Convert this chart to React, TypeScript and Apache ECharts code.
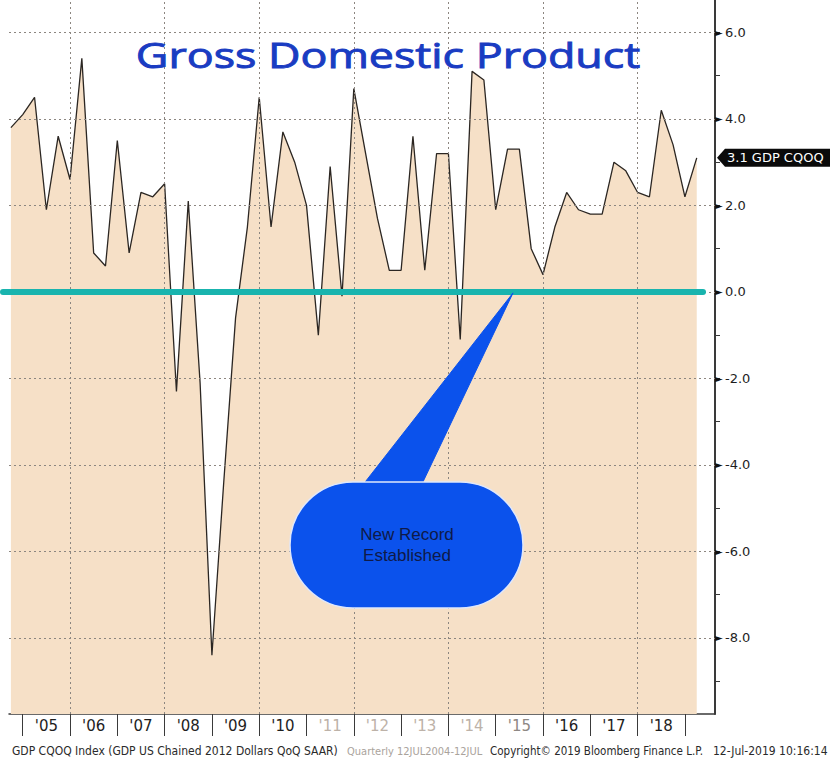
import React, { useEffect, useRef } from "react";
import * as echarts from "echarts";

// Quarterly GDP (QoQ SAAR), quarter-end positions
const quarters: string[] = [
  "2004Q3", "2004Q4",
  "2005Q1", "2005Q2", "2005Q3", "2005Q4",
  "2006Q1", "2006Q2", "2006Q3", "2006Q4",
  "2007Q1", "2007Q2", "2007Q3", "2007Q4",
  "2008Q1", "2008Q2", "2008Q3", "2008Q4",
  "2009Q1", "2009Q2", "2009Q3", "2009Q4",
  "2010Q1", "2010Q2", "2010Q3", "2010Q4",
  "2011Q1", "2011Q2", "2011Q3", "2011Q4",
  "2012Q1", "2012Q2", "2012Q3", "2012Q4",
  "2013Q1", "2013Q2", "2013Q3", "2013Q4",
  "2014Q1", "2014Q2", "2014Q3", "2014Q4",
  "2015Q1", "2015Q2", "2015Q3", "2015Q4",
  "2016Q1", "2016Q2", "2016Q3", "2016Q4",
  "2017Q1", "2017Q2", "2017Q3", "2017Q4",
  "2018Q1", "2018Q2", "2018Q3", "2018Q4",
  "2019Q1",
];

const gdpValues: number[] = [
  3.8, 4.1,
  4.5, 1.9, 3.6, 2.6,
  5.4, 0.9, 0.6, 3.5,
  0.9, 2.3, 2.2, 2.5,
  -2.3, 2.1, -2.1, -8.4,
  -4.4, -0.6, 1.5, 4.5,
  1.5, 3.7, 3.0, 2.0,
  -1.0, 2.9, -0.1, 4.7,
  3.2, 1.7, 0.5, 0.5,
  3.6, 0.5, 3.2, 3.2,
  -1.1, 5.1, 4.9, 1.9,
  3.3, 3.3, 1.0, 0.4,
  1.5, 2.3, 1.9, 1.8,
  1.8, 3.0, 2.8, 2.3,
  2.2, 4.2, 3.4, 2.2,
  3.1,
];

const yearBoundaries: number[] = [2005, 2006, 2007, 2008, 2009, 2010, 2011, 2012, 2013, 2014, 2015, 2016, 2017, 2018, 2019];
const yearLabels: string[] = ["'05", "'06", "'07", "'08", "'09", "'10", "'11", "'12", "'13", "'14", "'15", "'16", "'17", "'18"];
const fadedYearLabels: string[] = ["'11", "'12", "'13", "'14"];
const verticalGridYears: number[] = [2006, 2008, 2010, 2012, 2014, 2016, 2018];
const yLabelValues: number[] = [-8, -6, -4, -2, 0, 2, 4, 6];
const yMinorTicks: number[] = [-9, -8, -7, -6, -5, -4, -3, -2, -1, 0, 1, 2, 3, 4, 5, 6];

const X_MIN = 2004.71;
const X_MAX = 2019.636;
const Y_MIN = -9.76;
const Y_MAX = 6.75;

function quarterPos(q: string): number {
  const year = parseInt(q.slice(0, 4), 10);
  const qn = parseInt(q.slice(5), 10);
  return year + qn * 0.25;
}

export default function App() {
  const ref = useRef<HTMLDivElement>(null);

  useEffect(() => {
    if (!ref.current) return;
    const chart = echarts.init(ref.current, null, { renderer: "svg" });
    const seriesData = quarters.map((q, i) => [quarterPos(q), gdpValues[i]]);
    const labelPositions = yearBoundaries.slice(0, -1).map((y) => y + 0.5);
    const gridLineStyle = { color: "#8c8680", type: [2, 3] as any, width: 1 };

    const option: any = {
      animation: false,
      backgroundColor: "#ffffff",
      grid: { left: 9, right: 115, top: 0, bottom: 47, containLabel: false },
      xAxis: {
        type: "value",
        min: X_MIN,
        max: X_MAX,
        splitLine: { show: false },
        axisLine: { show: true, onZero: false, lineStyle: { color: "#3a3a3a", width: 1.5 } },
        axisTick: {
          show: true,
          length: 22,
          inside: false,
          customValues: yearBoundaries,
          lineStyle: { color: "#3a3a3a", width: 1 },
        },
        axisLabel: {
          show: true,
          customValues: labelPositions,
          margin: 4,
          fontFamily: "DejaVu Sans",
          fontSize: 15,
          formatter: (v: number) => yearLabels[Math.round(v - 0.5) - 2005] || "",
          color: (v: any) => {
            const lbl = yearLabels[Math.round(Number(v) - 0.5) - 2005];
            if (fadedYearLabels.indexOf(lbl) >= 0) return "#bdb2a8";
            if (lbl === "'15") return "#8e8884";
            return "#1e1e1e";
          },
        },
      },
      yAxis: {
        type: "value",
        position: "right",
        min: Y_MIN,
        max: Y_MAX,
        splitLine: { show: false },
        axisLine: { show: true, onZero: false, lineStyle: { color: "#3a3a3a", width: 2 } },
        axisTick: {
          show: true,
          length: 5,
          inside: false,
          customValues: yMinorTicks,
          lineStyle: { color: "#3a3a3a", width: 1 },
        },
        axisLabel: {
          show: true,
          customValues: yLabelValues,
          margin: 0,
          formatter: (v: number) => `{a|►}{b|${v.toFixed(1)}}`,
          rich: {
            a: { fontSize: 10, color: "#111", width: 10, fontFamily: "DejaVu Sans" },
            b: { fontSize: 13, color: "#1e1e1e", fontFamily: "DejaVu Sans" },
          },
        },
      },
      series: [
        {
          type: "line",
          data: seriesData,
          showSymbol: false,
          symbol: "none",
          lineStyle: { color: "#2b2622", width: 1.3 },
          areaStyle: { color: "#f6e0c7", opacity: 1, origin: "start" },
          markLine: {
            silent: true,
            symbol: "none",
            label: { show: false },
            lineStyle: gridLineStyle,
            data: [
              ...verticalGridYears.map((y) => ({ xAxis: y })),
              ...yLabelValues.map((v) => ({ yAxis: v })),
            ],
          },
          z: 2,
        },
      ],
    };
    chart.setOption(option);

    const y0 = chart.convertToPixel({ yAxisIndex: 0 }, 0) as number;
    const lastVal = gdpValues[gdpValues.length - 1];
    const yLast = chart.convertToPixel({ yAxisIndex: 0 }, lastVal) as number;

    const footFont = "12px 'DejaVu Sans Condensed'";

    chart.setOption({
      graphic: [
        {
          type: "text",
          x: 388,
          y: 55,
          scaleX: 1.28,
          style: {
            text: "Gross Domestic Product",
            fill: "#1a3cc2",
            stroke: "#1a3cc2",
            lineWidth: 0.9,
            font: "35px 'Open Sans'",
            align: "center",
            verticalAlign: "middle",
          },
          z: 10,
        },
        {
          type: "line",
          shape: { x1: 3, y1: y0, x2: 703, y2: y0 },
          style: { stroke: "#19b4ae", lineWidth: 6, lineCap: "round" },
          z: 10,
        },
        {
          type: "polygon",
          shape: { points: [[362, 486], [421, 486], [513, y0 + 1]] },
          style: { fill: "#0b52ec", stroke: "#0b52ec", lineWidth: 1 },
          z: 11,
        },
        {
          type: "rect",
          shape: { x: 290, y: 482, width: 233, height: 126, r: 63 },
          style: { fill: "#0b52ec", stroke: "#dfe7fb", lineWidth: 1.5 },
          z: 11,
        },
        {
          type: "polygon",
          shape: { points: [[363, 484], [420, 484], [421, 490], [362, 490]] },
          style: { fill: "#0b52ec" },
          z: 12,
        },
        {
          type: "text",
          x: 407,
          y: 545,
          style: {
            text: "New Record\nEstablished",
            fill: "#0f1a48",
            font: "17px 'Liberation Sans'",
            align: "center",
            verticalAlign: "middle",
            lineHeight: 21,
          },
          z: 13,
        },
        {
          type: "polygon",
          shape: { points: [[717, yLast], [725, yLast - 9], [830, yLast - 9], [830, yLast + 9], [725, yLast + 9]] },
          style: { fill: "#0a0a0a" },
          z: 10,
        },
        {
          type: "text",
          x: 727,
          y: yLast,
          style: {
            text: `${lastVal.toFixed(1)} GDP CQOQ`,
            fill: "#ffffff",
            font: "13px 'DejaVu Sans'",
            align: "left",
            verticalAlign: "middle",
          },
          z: 11,
        },
        {
          type: "text",
          x: 12,
          y: 751,
          style: { text: "GDP CQOQ Index (GDP US Chained 2012 Dollars QoQ SAAR)", fill: "#2a2a2a", font: footFont, verticalAlign: "middle" },
        },
        {
          type: "text",
          x: 347,
          y: 751,
          style: { text: "Quarterly 12JUL2004-12JUL", fill: "#aaa39c", font: "11px 'DejaVu Sans Condensed'", verticalAlign: "middle" },
        },
        {
          type: "text",
          x: 490,
          y: 751,
          style: { text: "Copyright© 2019 Bloomberg Finance L.P.", fill: "#2a2a2a", font: "11.5px 'DejaVu Sans Condensed'", verticalAlign: "middle" },
        },
        {
          type: "text",
          x: 713,
          y: 751,
          style: { text: "12-Jul-2019 10:16:14", fill: "#2a2a2a", font: footFont, verticalAlign: "middle" },
        },
      ],
    });

    return () => chart.dispose();
  }, []);

  return (
    <div
      ref={ref}
      style={{ position: "absolute", left: 0, top: 0, width: 830, height: 761, background: "#fff" }}
    />
  );
}
